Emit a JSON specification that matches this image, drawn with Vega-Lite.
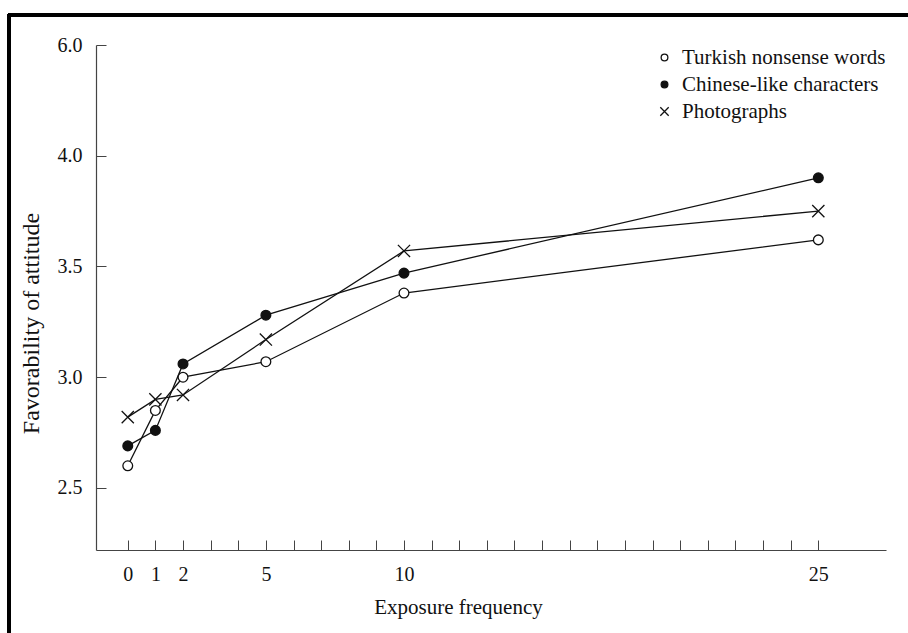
{
  "$schema": "https://vega.github.io/schema/vega-lite/v6.json",
  "width": 790,
  "height": 505,
  "autosize": {"type": "none"},
  "padding": {"left": 96, "top": 45, "right": 22, "bottom": 83},
  "background": "white",
  "config": {
    "view": {"stroke": null},
    "font": "Liberation Serif",
    "axis": {"labelFont": "Liberation Serif", "titleFont": "Liberation Serif", "labelColor": "#111", "titleColor": "#111", "titleFontWeight": "normal", "domainColor": "#444", "tickColor": "#444", "grid": false}
  },
  "datasets": {
    "ratings": [
      {"stimulus": "Turkish nonsense words", "exposure": 0, "favorability": 2.60},
      {"stimulus": "Turkish nonsense words", "exposure": 1, "favorability": 2.85},
      {"stimulus": "Turkish nonsense words", "exposure": 2, "favorability": 3.00},
      {"stimulus": "Turkish nonsense words", "exposure": 5, "favorability": 3.07},
      {"stimulus": "Turkish nonsense words", "exposure": 10, "favorability": 3.38},
      {"stimulus": "Turkish nonsense words", "exposure": 25, "favorability": 3.62},
      {"stimulus": "Chinese-like characters", "exposure": 0, "favorability": 2.69},
      {"stimulus": "Chinese-like characters", "exposure": 1, "favorability": 2.76},
      {"stimulus": "Chinese-like characters", "exposure": 2, "favorability": 3.06},
      {"stimulus": "Chinese-like characters", "exposure": 5, "favorability": 3.28},
      {"stimulus": "Chinese-like characters", "exposure": 10, "favorability": 3.47},
      {"stimulus": "Chinese-like characters", "exposure": 25, "favorability": 3.90},
      {"stimulus": "Photographs", "exposure": 0, "favorability": 2.82},
      {"stimulus": "Photographs", "exposure": 1, "favorability": 2.90},
      {"stimulus": "Photographs", "exposure": 2, "favorability": 2.92},
      {"stimulus": "Photographs", "exposure": 5, "favorability": 3.17},
      {"stimulus": "Photographs", "exposure": 10, "favorability": 3.57},
      {"stimulus": "Photographs", "exposure": 25, "favorability": 3.75}
    ]
  },
  "data": {"name": "ratings"},
  "encoding": {
    "x": {
      "field": "exposure",
      "type": "quantitative",
      "scale": {"domain": [-1.15, 27.45], "nice": false, "zero": false},
      "axis": {
        "title": "Exposure frequency",
        "titleFontSize": 21,
        "titleX": 362,
        "titleY": 63,
        "titleAnchor": null,
        "titleAlign": "center",
        "titleBaseline": "alphabetic",
        "values": [0,1,2,3,4,5,6,7,8,9,10,11,12,13,14,15,16,17,18,19,20,21,22,23,24,25],
        "labelExpr": "indexof([0,1,2,5,10,25], datum.value) >= 0 ? datum.label : ''",
        "labelOverlap": false,
        "labelFlush": false,
        "labelFontSize": 20,
        "labelPadding": 24,
        "tickSize": -10,
        "tickWidth": 1,
        "domainWidth": 1.2
      }
    },
    "y": {
      "field": "favorability",
      "type": "quantitative",
      "scale": {"domain": [2.22, 4.0, 6.0], "range": [505, 110.7, 0], "nice": false, "zero": false},
      "axis": {
        "title": "Favorability of attitude",
        "titleFontSize": 24,
        "titleAngle": -90,
        "titleX": -58,
        "titleY": 278,
        "titleAnchor": null,
        "titleAlign": "center",
        "titleBaseline": "alphabetic",
        "values": [2.5, 3.0, 3.5, 4.0, 6.0],
        "format": ".1f",
        "labelFontSize": 20,
        "labelPadding": 24,
        "tickSize": -10,
        "tickWidth": 1,
        "domainWidth": 1.2
      }
    }
  },
  "layer": [
    {
      "mark": {"type": "line", "color": "#111", "strokeWidth": 1.3},
      "encoding": {"detail": {"field": "stimulus", "type": "nominal"}}
    },
    {
      "mark": {"type": "point", "filled": true, "strokeWidth": 1.3, "size": 95, "opacity": 1},
      "encoding": {
        "shape": {
          "field": "stimulus",
          "type": "nominal",
          "scale": {"domain": ["Turkish nonsense words", "Chinese-like characters", "Photographs"], "range": ["circle", "circle", "M-1.25,-1.25L1.25,1.25M-1.25,1.25L1.25,-1.25"]},
          "legend": {
            "title": null,
            "orient": "none",
            "legendX": 558,
            "legendY": 2,
            "symbolSize": 45,
            "symbolStrokeWidth": 1.3,
            "labelFont": "Liberation Serif",
            "labelFontSize": 21,
            "labelColor": "#111",
            "labelOffset": 7,
            "rowPadding": 5,
            "padding": 0,
            "labelLimit": 400
          }
        },
        "fill": {
          "field": "stimulus",
          "type": "nominal",
          "scale": {"domain": ["Turkish nonsense words", "Chinese-like characters", "Photographs"], "range": ["white", "#111", "transparent"]},
          "legend": null
        },
        "stroke": {
          "field": "stimulus",
          "type": "nominal",
          "scale": {"domain": ["Turkish nonsense words", "Chinese-like characters", "Photographs"], "range": ["#111", "#111", "#111"]},
          "legend": null
        }
      }
    },
    {
      "mark": {"type": "rule", "color": "black", "strokeWidth": 2.5},
      "encoding": {
        "x": {"datum": -4.30, "type": "quantitative"},
        "y": {"datum": 6.55, "type": "quantitative"},
        "y2": {"datum": 1.84}
      }
    },
    {
      "mark": {"type": "rule", "color": "black", "strokeWidth": 2.5},
      "encoding": {
        "x": {"datum": -4.34, "type": "quantitative"},
        "x2": {"datum": 28.3},
        "y": {"datum": 6.54, "type": "quantitative"}
      }
    }
  ]
}
